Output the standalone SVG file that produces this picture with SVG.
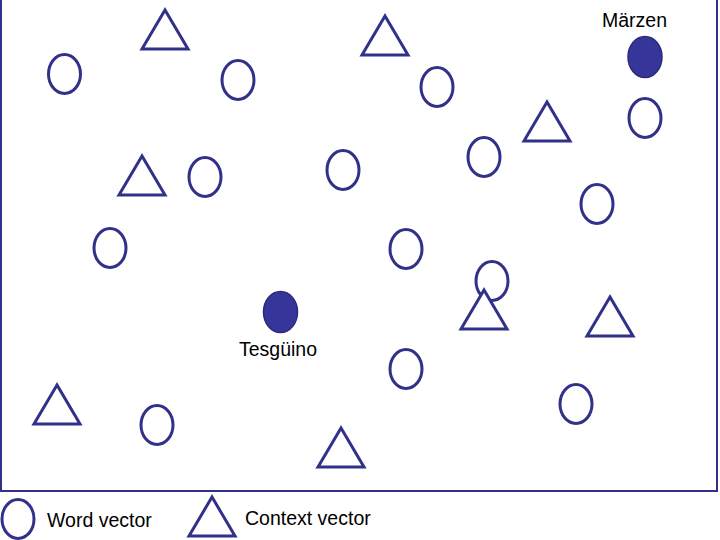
<svg xmlns="http://www.w3.org/2000/svg" xmlns:xlink="http://www.w3.org/1999/xlink" width="720" height="540" viewBox="0 0 720 540">
<style>
.wv{fill:#ffffff;stroke:#31318a;stroke-width:3}
.cv{fill:#ffffff;stroke:#31318a;stroke-width:3;stroke-linejoin:miter}
.hl{fill:#36369a;stroke:#2a2a7c;stroke-width:1.5}
.frame{fill:none;stroke:#31318a;stroke-width:2}
.lbl{font-family:"Liberation Sans",Arial,sans-serif;font-size:19.5px;fill:#000000}
</style>
<defs>
<path id="tri" d="M0,0 L-23,39 L23,39 Z"/>
</defs>
<rect width="720" height="540" fill="#ffffff"/>
<rect class="frame" x="1" y="-10" width="716" height="501"/>
<g id="connectors"></g>
<g id="words">
<ellipse id="w1" class="wv" cx="64.5" cy="74" rx="16" ry="19.5"/>
<ellipse id="w2" class="wv" cx="238" cy="80" rx="16" ry="19.5"/>
<ellipse id="w3" class="wv" cx="437" cy="87" rx="16" ry="19.5"/>
<ellipse id="w4" class="wv" cx="645" cy="118" rx="16" ry="19.5"/>
<ellipse id="w5" class="wv" cx="484" cy="157" rx="16" ry="19.5"/>
<ellipse id="w6" class="wv" cx="205" cy="177" rx="16" ry="19.5"/>
<ellipse id="w7" class="wv" cx="343" cy="170" rx="16" ry="19.5"/>
<ellipse id="w8" class="wv" cx="597" cy="204" rx="16" ry="19.5"/>
<ellipse id="w9" class="wv" cx="110" cy="248" rx="16" ry="19.5"/>
<ellipse id="w10" class="wv" cx="406" cy="249" rx="16" ry="19.5"/>
<ellipse id="w11" class="wv" cx="492" cy="281" rx="16" ry="19.5"/>
<ellipse id="w12" class="wv" cx="406" cy="369" rx="16" ry="19.5"/>
<ellipse id="w13" class="wv" cx="576" cy="404" rx="16" ry="19.5"/>
<ellipse id="w14" class="wv" cx="157" cy="425" rx="16" ry="19.5"/>
</g>
<g id="contexts">
<use id="c1" class="cv" xlink:href="#tri" href="#tri" x="165" y="10"/>
<use id="c2" class="cv" xlink:href="#tri" href="#tri" x="385" y="16"/>
<use id="c3" class="cv" xlink:href="#tri" href="#tri" x="547" y="102"/>
<use id="c4" class="cv" xlink:href="#tri" href="#tri" x="142" y="156"/>
<use id="c5" class="cv" xlink:href="#tri" href="#tri" x="484" y="290"/>
<use id="c6" class="cv" xlink:href="#tri" href="#tri" x="610" y="297"/>
<use id="c7" class="cv" xlink:href="#tri" href="#tri" x="57" y="385"/>
<use id="c8" class="cv" xlink:href="#tri" href="#tri" x="341" y="428"/>
</g>
<g id="maerzen">
<ellipse class="hl" cx="645" cy="57" rx="17" ry="20.5"/>
<text class="lbl" x="602" y="27">Märzen</text>
</g>
<g id="tesguino">
<ellipse class="hl" cx="280.5" cy="312" rx="17" ry="20.5"/>
<text class="lbl" x="239" y="356">Tesgüino</text>
</g>
<g id="legend-word">
<ellipse class="wv" cx="18" cy="519" rx="16" ry="19.5"/>
<text class="lbl" x="47" y="527">Word vector</text>
</g>
<g id="legend-context">
<use class="cv" xlink:href="#tri" href="#tri" x="212" y="497"/>
<text class="lbl" x="245" y="525">Context vector</text>
</g>
</svg>
